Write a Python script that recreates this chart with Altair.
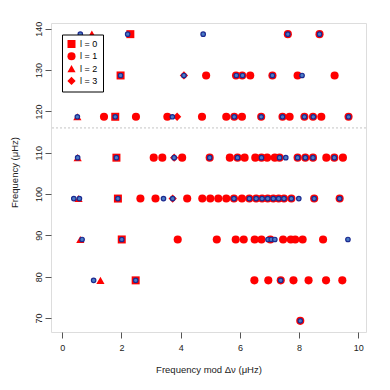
import altair as alt
import pandas as pd

# Row frequencies (y) of the échelle diagram
row_y = [138.7, 128.7, 118.7, 108.8, 98.9, 89.0, 79.1, 69.3]

# l = 0 (squares)
l0_x = [2.30, 1.97, 1.79, 1.83, 1.88, 2.01, 2.48]
l0_y = [138.7, 128.7, 118.7, 108.8, 98.9, 89.0, 79.1]

# l = 2 (triangles)
l2_x = [1.00, 0.51, 0.52, 0.55, 0.61, 1.29]
l2_y = [138.7, 118.7, 108.8, 98.9, 89.0, 79.1]

# l = 3 (diamonds)
l3_x = [4.11, 3.88, 3.78, 3.73]
l3_y = [128.7, 118.7, 108.8, 98.9]

# l = 1 (circles), per row
l1_rows = [
    [7.62, 8.69],
    [4.86, 5.87, 6.08, 6.35, 7.10, 7.95, 9.20],
    [1.41, 2.49, 3.55, 4.72, 5.54, 5.81, 6.07, 6.72, 7.44, 7.68, 8.18, 8.47, 8.75, 9.67],
    [3.09, 3.38, 4.05, 4.98, 5.66, 5.92, 6.16, 6.52, 6.73, 6.92, 7.18, 7.34, 7.95, 8.21, 8.47, 8.92, 9.19, 9.48],
    [2.64, 3.15, 4.22, 4.73, 5.00, 5.27, 5.54, 5.80, 6.07, 6.32, 6.55, 6.75, 6.94, 7.13, 7.31, 7.49, 7.74, 8.51, 9.37],
    [3.90, 5.22, 5.86, 6.13, 6.50, 6.73, 7.03, 7.46, 7.72, 7.87, 8.12, 8.81],
    [6.49, 6.96, 7.38, 7.81, 8.32, 8.91, 9.46],
    [8.04],
]

# Observed frequencies (blue), per row
obs_rows = [
    [0.61, 2.21, 4.76, 7.62, 8.69],
    [1.97, 4.11, 5.88, 6.09, 7.10, 8.10],
    [0.51, 1.79, 3.72, 5.81, 6.72, 7.44, 8.18, 8.48, 9.67],
    [0.52, 1.83, 3.78, 4.98, 5.92, 6.73, 7.34, 7.55, 7.95, 8.21, 8.47, 9.19],
    [0.39, 0.58, 1.88, 3.42, 3.73, 5.80, 6.32, 6.55, 6.75, 6.94, 7.13, 7.31, 7.49, 7.74, 7.99, 8.51, 9.37],
    [0.67, 2.01, 6.95, 7.06, 7.18, 9.65],
    [1.06, 2.48, 7.38],
    [8.04],
]

cutoff = [116.0]

labels = ["l = 0", "l = 1", "l = 2", "l = 3"]

model_recs = []
for x, y in zip(l0_x, l0_y):
    model_recs.append({"x": x, "y": y, "l": labels[0]})
for yy, xs in zip(row_y, l1_rows):
    for x in xs:
        model_recs.append({"x": x, "y": yy, "l": labels[1]})
for x, y in zip(l2_x, l2_y):
    model_recs.append({"x": x, "y": y, "l": labels[2]})
for x, y in zip(l3_x, l3_y):
    model_recs.append({"x": x, "y": y, "l": labels[3]})
model_df = pd.DataFrame(model_recs)

obs_df = pd.DataFrame(
    [{"x": x, "y": yy} for yy, xs in zip(row_y, obs_rows) for x in xs]
)
cut_df = pd.DataFrame({"y": cutoff})

xscale = alt.Scale(domain=[-0.38, 10.26], nice=False, zero=False)
yscale = alt.Scale(domain=[66.6, 141.4], nice=False, zero=False)

xaxis = alt.Axis(
    values=[0, 2, 4, 6, 8, 10], title="Frequency mod Δν (μHz)", grid=False,
    domain=False, tickSize=6, tickColor="#555", labelFontSize=9, labelColor="#222",
    labelPadding=5, titleFontSize=9.5, titleFontWeight="normal", titleColor="#222",
    titleY=37, titleBaseline="middle",
    labelFont="Liberation Sans", titleFont="Liberation Sans",
)
yaxis = alt.Axis(
    values=[70, 80, 90, 100, 110, 120, 130, 140], title="Frequency (μHz)", grid=False,
    domain=False, tickSize=6, tickColor="#555", labelFontSize=9, labelColor="#222",
    labelAngle=270, labelAlign="center", labelBaseline="bottom", labelPadding=2,
    titleFontSize=9.5, titleFontWeight="normal", titleColor="#222",
    titleX=-37, titleY=149, titleBaseline="middle",
    labelFont="Liberation Sans", titleFont="Liberation Sans",
)

legend = alt.Legend(
    title=None, orient="none", legendX=11, legendY=11.5,
    strokeColor="black", fillColor="white", padding=5, rowPadding=2.3,
    labelFontSize=9, labelFont="Liberation Sans", labelColor="black",
    symbolFillColor="red", symbolStrokeWidth=0, labelOffset=4,
)

rule = alt.Chart(cut_df).mark_rule(color="#c4c4c4", strokeDash=[2, 2], strokeWidth=1).encode(
    y=alt.Y("y:Q", scale=yscale, axis=yaxis)
)

model = alt.Chart(model_df).mark_point(filled=True, color="red", opacity=1, strokeWidth=0).encode(
    x=alt.X("x:Q", scale=xscale, axis=xaxis),
    y=alt.Y("y:Q", scale=yscale, axis=yaxis),
    shape=alt.Shape(
        "l:N",
        scale=alt.Scale(domain=labels, range=["square", "circle", "triangle-up", "diamond"]),
        legend=legend,
    ),
    size=alt.Size(
        "l:N",
        scale=alt.Scale(domain=labels, range=[64, 69, 95, 45]),
        legend=legend,
    ),
)

obs = alt.Chart(obs_df).mark_point(
    filled=True, fill="#4a7cc6", stroke="#1c2a90", strokeWidth=1.2, size=20, shape="circle", opacity=1
).encode(
    x=alt.X("x:Q", scale=xscale, axis=xaxis),
    y=alt.Y("y:Q", scale=yscale, axis=yaxis),
)

chart = alt.layer(rule, model, obs).properties(
    width=315, height=309,
    autosize=alt.AutoSizeParams(type="none"),
    padding={"left": 43, "top": 15, "right": 16, "bottom": 50},
).configure_view(stroke="#555", strokeWidth=1).configure(background="white")

chart.save("out.html", embed_options={"renderer": "svg", "actions": False})
